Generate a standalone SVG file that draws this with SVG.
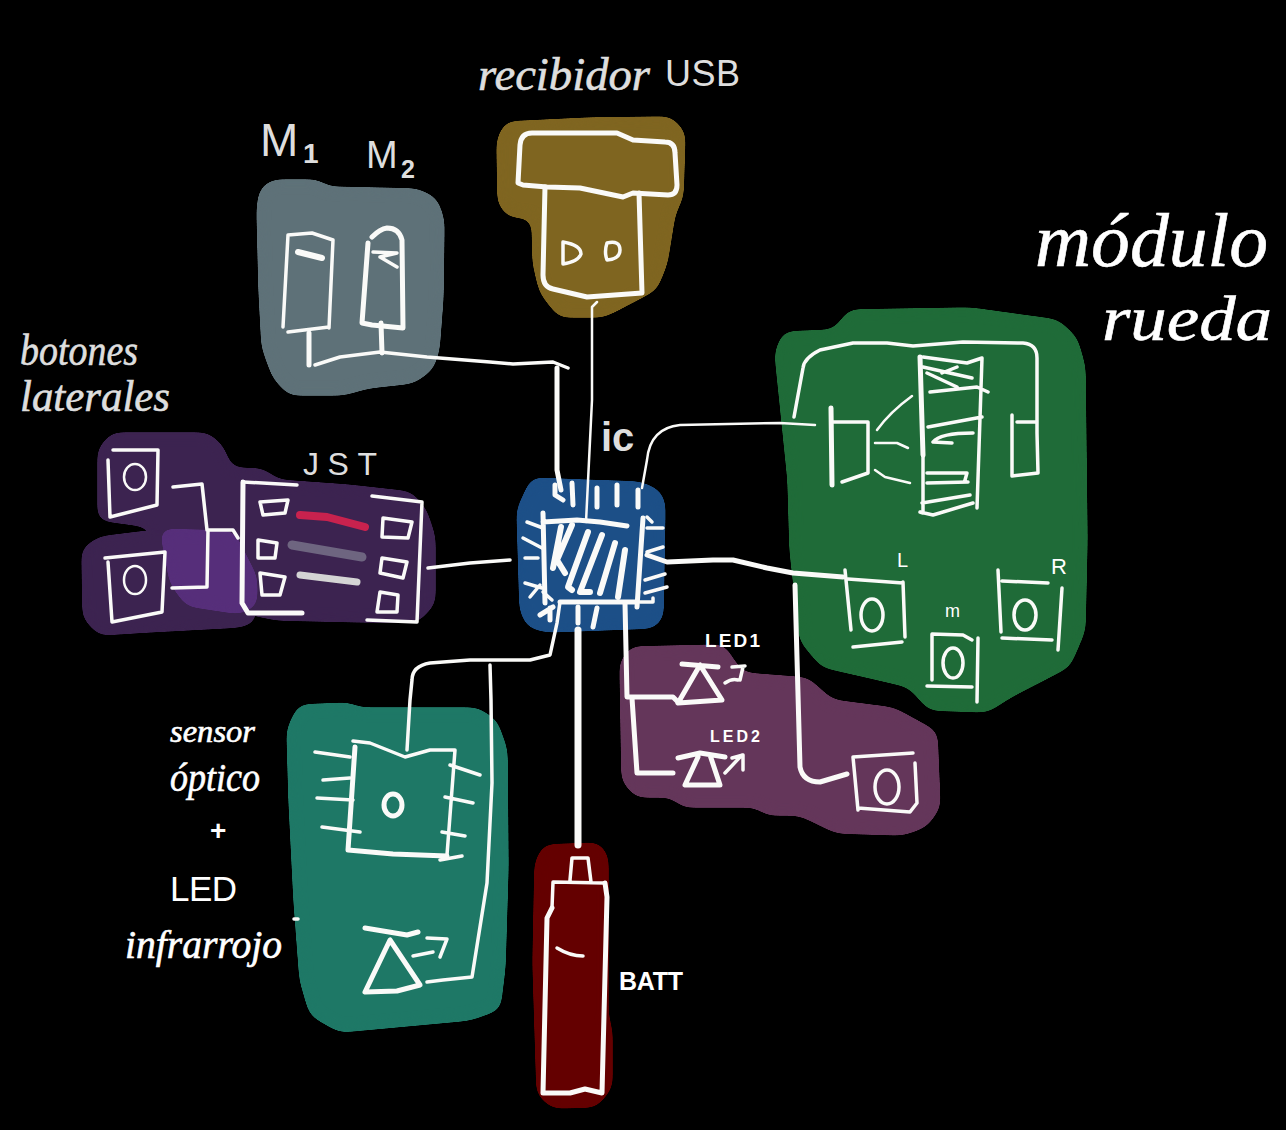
<svg xmlns="http://www.w3.org/2000/svg" width="1286" height="1130" viewBox="0 0 1286 1130">
<defs>
<filter id="r" x="-15%" y="-15%" width="130%" height="130%" color-interpolation-filters="sRGB">
<feGaussianBlur stdDeviation="7"/>
<feColorMatrix type="matrix" values="1 0 0 0 0 0 1 0 0 0 0 0 1 0 0 0 0 0 30 -15"/>
</filter>
</defs>
<style>
path,ellipse{fill:none;stroke:#fafaf8;stroke-linecap:round;stroke-linejoin:round;stroke-width:3.5}
path.b{stroke-width:6;filter:url(#r)}
.t2{stroke-width:2.5}
.t5{stroke-width:5}
.t6{stroke-width:6}
text{fill:#fff;font-family:"Liberation Sans",Arial,sans-serif}
.h{font-family:"Liberation Serif","Times New Roman",serif;font-style:italic;stroke:#fff;stroke-width:.6}
.g{fill:#dedede}
.h.g{stroke:#dedede}
</style>
<rect width="1286" height="1130" fill="#000"/>

<g id="motores">
<path class="b" style="fill:#5e7178;stroke:#5e7178" d="M259 208L262 190L273 182L318 182L327 189L417 191L435 200L442 220L441 297L437 350L431 368L413 381L367 386L343 393L290 393L275 377L264 347L261 290Z"/>
<path d="M288 235L283 327M288 235L312 233L333 240L329 328M288 332L329 327"/>
<path class="t6" d="M298 252L322 258"/>
<path class="t5" d="M372 237Q380 229 387 228Q399 228 402 240L403 328L372 325L362 323L368 243"/>
<path d="M373 252L397 253L380 257L397 267"/>
<text class="g" x="260" y="156" font-size="46">M</text>
<text class="g" x="303" y="163" font-size="28" font-weight="700">1</text>
<text class="g" x="366" y="168" font-size="38">M</text>
<text class="g" x="401" y="178" font-size="25" font-weight="700">2</text>
</g>

<g id="receptor-usb">
<path class="b" style="fill:#7f6520;stroke:#7f6520" d="M499 140L507 124L590 120L670 119L683 133L681 197L673 213L665 263L655 288L617 308L603 315L560 315L542 292L535 263L534 216L510 215L500 203Z"/>
<path class="t5" d="M518 183L520 145Q521 133 532 133L617 133L633 140L665 142Q675 142 675 153L677 185Q677 195 668 195L633 193L623 197L580 188L547 187L523 185Z"/>
<path class="t5" d="M545 187L543 275Q543 287 553 289L587 297L642 293L639 193"/>
<path d="M563 242L563 264Q578 262 581 254Q581 245 563 242ZM607 243Q620 240 620 250Q620 259 607 260Q604 252 607 243Z"/>
<text class="h g" x="478" y="90" font-size="46" textLength="172" lengthAdjust="spacingAndGlyphs">recibidor</text>
<text class="g" x="665" y="86" font-size="36" textLength="75">USB</text>
</g>

<g id="modulo-rueda">
<path class="b" style="fill:#1f6b38;stroke:#1f6b38" d="M777 353L785 334L835 332L850 312L970 310L1057 322L1075 339L1083 367L1085 540L1083 630L1068 665L1010 695L987 710L930 708L917 693L910 685L867 675L823 665L802 640L792 550L790 480Z"/>
<path d="M794 417L803 368Q804 358 820 350L853 343L887 343L913 346L963 342L1023 343Q1037 344 1037 358L1037 433L1038 473L1012 476L1012 415M1017 422L1037 422"/>
<path class="t5" d="M831 408L832 485"/>
<path d="M833 422L868 422L868 473L842 482"/>
<path class="t5" d="M920 357L923 455"/>
<path d="M923 455L923 513L920 512L933 515L973 503M982 358L977 508M923 357L967 363L982 358M923 367L972 378M927 373L957 387M942 373L957 367M930 392L977 387L988 392M928 427L982 417M933 442Q940 433 973 433M933 442L952 443M927 473L967 473L965 480M927 483L968 482M922 503L970 495"/>
<path class="t2" d="M912 396Q890 412 877 430M875 443L897 443L908 448M875 470L885 477L910 483"/>
<path d="M845 570L851 630M848 579L903 583M903 582L905 637M853 647L902 642"/>
<ellipse cx="872" cy="615" rx="11" ry="16"/>
<path d="M998 570L1001 632M1002 581L1048 583M1062 588L1058 650M1002 638L1052 640"/>
<ellipse cx="1025" cy="615" rx="11" ry="15"/>
<path d="M932 634L932 680M932 634L963 635L972 640M978 638L977 702M927 686L972 687"/>
<ellipse cx="953" cy="663" rx="10" ry="15"/>
<text x="897" y="567" font-size="20">L</text>
<text x="1051" y="574" font-size="22">R</text>
<text x="945" y="617" font-size="18">m</text>
<text class="h" x="1035" y="266" font-size="76" textLength="233" lengthAdjust="spacingAndGlyphs">módulo</text>
<text class="h" x="1102" y="340" font-size="64" textLength="170" lengthAdjust="spacingAndGlyphs">rueda</text>
</g>

<g id="botones-laterales">
<path class="b" style="fill:#3c2350;stroke:#3c2350" d="M100 450L113 435L207 435L221 447L230 470L263 471L277 482L347 487L410 494L424 510L433 537L433 603L417 620L367 620L277 618L240 610L170 590L150 525L100 518Z"/>
<path class="b" style="fill:#3c2350;stroke:#3c2350" d="M84 550L100 539L157 532L240 540L255 580L253 621L240 625L147 630L100 633L85 617Z"/>
<path style="fill:#562e7a;stroke:#562e7a;filter:url(#r)" d="M161 530L233 532L256 577L256 605L240 613L187 605L171 583Z"/>
<path d="M113 450L158 450L157 505L110 517L108 460"/>
<ellipse cx="135" cy="477" rx="11" ry="13" class="t2"/>
<path d="M105 558L165 552L162 612L112 622L108 562"/>
<ellipse cx="135" cy="580" rx="11" ry="14" class="t2"/>
<text class="h g" x="20" y="365" font-size="44" textLength="118" lengthAdjust="spacingAndGlyphs">botones</text>
<text class="h g" x="20" y="411" font-size="44" textLength="150" lengthAdjust="spacingAndGlyphs">laterales</text>
</g>

<g id="jst">
<path class="t5" d="M243 482L242 603L248 613L302 613"/>
<path d="M243 482L297 485M372 496L422 502L417 622L367 620"/>
<path d="M260 502L288 500L285 513L263 515ZM258 540L277 543L275 558L258 558ZM260 573L285 577L280 595L262 595ZM383 518L412 522L408 538L382 537ZM382 558L407 562L403 578L380 573ZM380 592L398 595L397 612L377 612Z"/>
<path style="stroke:#c8224e;stroke-width:8" d="M300 515L327 517L365 527"/>
<path style="stroke:#6e6580;stroke-width:9" d="M292 545L362 557"/>
<path style="stroke:#d4d4d4;stroke-width:7" d="M300 575L357 582"/>
<text class="g" x="303" y="475" font-size="32" textLength="74">JST</text>
</g>

<g id="ic">
<path class="b" style="fill:#1c4f87;stroke:#1c4f87" d="M519 510L533 480L580 482L640 484L658 492L663 503L661 617L653 626L547 630L529 625L522 610Z"/>
<path class="t5" d="M543 513L545 603M543 522L577 520L600 522L627 526M643 518L637 607M560 602L637 602"/>
<path class="t6" d="M561 527L553 568M572 525L557 560L565 573M588 532L568 587L572 590M602 535L580 592L590 592M615 543L600 593M625 550L618 597"/>
<path class="t5" d="M555 485L555 495L563 500M572 483L573 505M597 488L597 507M617 485L617 505M638 490L638 507M540 615L553 607M550 608L550 620M578 607L578 623M597 608L593 627"/>
<path d="M527 522L543 528M523 538L542 548M525 558L538 558M525 583L542 588M530 597L540 585M543 592L552 600M647 517L652 522M647 528L663 528M647 552L663 547M645 580L665 574M645 593L667 587M640 602L653 602L653 598"/>
<text class="g" x="601" y="451" font-size="40" font-weight="700">ic</text>
</g>

<g id="leds">
<path class="b" style="fill:#64365a;stroke:#64365a" d="M622 663L632 649L723 647L733 663L742 675L807 680L831 702L893 710L935 733L938 807L925 825L903 833L837 831L800 813L767 813L757 805L683 805L673 795L637 795L624 780Z"/>
<path class="t5" d="M682 664L718 667M700 665L678 703L722 700Z"/>
<path d="M725 683Q732 678 738 680M743 667L740 680M732 667L745 666"/>
<path class="t5" d="M678 758L700 753L725 757M698 757L685 785L720 785L710 755"/>
<path d="M725 773L742 755M732 758L743 755L743 770"/>
<path d="M853 757L913 753M853 757L858 810M858 808L910 812L917 803L915 763"/>
<ellipse cx="887" cy="787" rx="12" ry="17"/>
<text x="705" y="647" font-size="19" font-weight="700" textLength="55">LED1</text>
<text x="710" y="742" font-size="16" font-weight="700" textLength="50">LED2</text>
</g>

<g id="sensor-optico">
<path class="b" style="fill:#1e7866;stroke:#1e7866" d="M289 730L300 707L350 705L357 710L477 710L495 722L505 750L506 867L503 967L498 1008L470 1018L340 1030L312 1014L302 980L296 900L291 800Z"/>
<path class="t5" d="M355 747L348 850L393 854L447 856"/>
<path d="M353 741L370 743L405 757L430 750L453 750L455 750L447 855M315 752L350 757M323 780L350 778M317 798L353 800M322 827L360 832M450 765L480 775M445 797L473 803M442 832L465 836M440 860L462 856"/>
<ellipse cx="393" cy="805" rx="9" ry="11" class="t5"/>
<path class="t5" d="M365 928L407 935L418 932M390 940L365 992L397 991L420 985Z"/>
<path d="M413 956L433 952M427 938L447 939L440 957M294 919L298 919"/>
<text class="h" x="170" y="742" font-size="32" textLength="85" lengthAdjust="spacingAndGlyphs">sensor</text>
<text class="h" x="170" y="791" font-size="40" textLength="90" lengthAdjust="spacingAndGlyphs">óptico</text>
<text x="210" y="840" font-size="28" font-weight="700">+</text>
<text x="170" y="901" font-size="35" textLength="67">LED</text>
<text class="h" x="125" y="958" font-size="40" textLength="157" lengthAdjust="spacingAndGlyphs">infrarrojo</text>
</g>

<g id="bateria">
<path class="b" style="fill:#640000;stroke:#640000" d="M537 863L545 847L598 845L606 857L606 1017L610 1030L610 1087L595 1105L553 1106L539 1093L535 963Z"/>
<path d="M570 880L572 858L588 858L591 882M552 908L553 882L605 883"/>
<path class="t5" d="M605 883L607 897L602 1093L585 1089L570 1093L543 1093L547 918L552 908"/>
<path d="M557 948Q570 956 583 956"/>
<text x="619" y="990" font-size="25" font-weight="700" textLength="64">BATT</text>
</g>

<g id="conectores">
<path d="M315 365L340 357L380 352L427 357L490 362L513 364L553 362L568 368"/>
<path class="t5" d="M309 333L309 365M381 323L382 353M557 368L557 470L561 490"/>
<path class="t2" d="M597 302L592 307L592 400L586 522"/>
<path class="t2" d="M642 488L647 460Q650 428 680 425L780 423L815 425"/>
<path class="t5" d="M647 555L667 562L713 560L733 560L767 568L793 573L843 577"/>
<path d="M428 568L470 563L510 560"/>
<path d="M173 487L202 484L207 530L233 530L238 538M172 588L207 587L208 530"/>
<path d="M560 602L557 623L550 655L530 660L470 660L430 663Q412 666 412 680L410 700L407 750"/>
<path d="M490 665L491 700L492 783L487 883L472 977L443 980L427 982"/>
<path d="M578 630L578 845" style="stroke-width:7"/>
<path class="t5" d="M625 603L627 697L673 697L678 702M632 698L637 773L673 773"/>
<path class="t5" d="M795 585L800 767Q803 782 820 782L847 774"/>
</g>
</svg>
